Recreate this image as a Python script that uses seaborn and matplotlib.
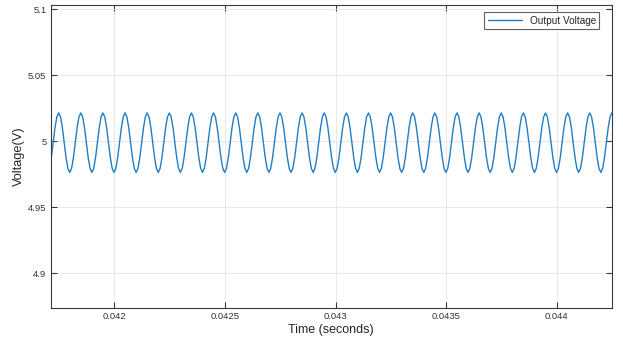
import numpy as np
import pandas as pd
import seaborn as sns
from matplotlib import pyplot as plt

# one cycle of the output voltage ripple (starting at a peak)
cycle_volts = [5.0214, 5.0184, 5.0102, 4.9989, 4.9876, 4.9794,
               4.9763, 4.9794, 4.9876, 4.9989, 5.0102, 5.0184]
ripple_period = 0.0001      # seconds (10 kHz ripple)
first_peak = 0.041749       # time of first visible peak
n_cycles = 28

x_ticks = [0.042, 0.0425, 0.043, 0.0435, 0.044]
x_labels = ['0.042', '0.0425', '0.043', '0.0435', '0.044']
y_ticks = [4.9, 4.95, 5.0, 5.05, 5.1]
y_labels = ['4.9', '4.95', '5', '5.05', '5.1']

volts = np.tile(cycle_volts, n_cycles)
dt = ripple_period / len(cycle_volts)
t = first_peak - ripple_period + np.arange(len(volts)) * dt
df = pd.DataFrame({'Time': t, 'Voltage': volts})

sns.set_style('whitegrid')
plt.rcParams['font.family'] = ['Liberation Sans', 'DejaVu Sans']

fig = plt.figure(figsize=(6.23, 3.45), dpi=100)
ax = fig.add_axes([0.0814, 0.1072, 0.9004, 0.8774])

sns.lineplot(data=df, x='Time', y='Voltage', ax=ax, color='#1f7fc4',
             linewidth=1.0, estimator=None, label='Output Voltage')

ax.set_xlim(0.041713, 0.044248)
ax.set_ylim(4.8735, 5.103)
ax.set_xticks(x_ticks)
ax.set_xticklabels(x_labels)
ax.set_yticks(y_ticks)
ax.set_yticklabels(y_labels)
ax.grid(True, color='#e4e4e4', linewidth=0.6)
ax.tick_params(direction='in', length=4, width=0.8, color='#3a3a3a',
               labelsize=6.8, labelcolor='#333333',
               top=True, right=True, bottom=True, left=True, pad=3)
for s in ax.spines.values():
    s.set_color('#3a3a3a')
    s.set_linewidth(0.8)

ax.set_xlabel('Time (seconds)', fontsize=9, color='#262626', labelpad=2)
ax.set_ylabel('Voltage(V)', fontsize=9.2, color='#262626')
ax.yaxis.set_label_coords(-0.0458, 0.5)

leg = ax.legend(loc='upper right', bbox_to_anchor=(0.978, 0.977),
                borderaxespad=0, fontsize=7.2, frameon=True, fancybox=False,
                handlelength=3.4, borderpad=0.35)
leg.get_frame().set_edgecolor('#3a3a3a')
leg.get_frame().set_linewidth(0.8)

fig.savefig('out.png', dpi=100)
